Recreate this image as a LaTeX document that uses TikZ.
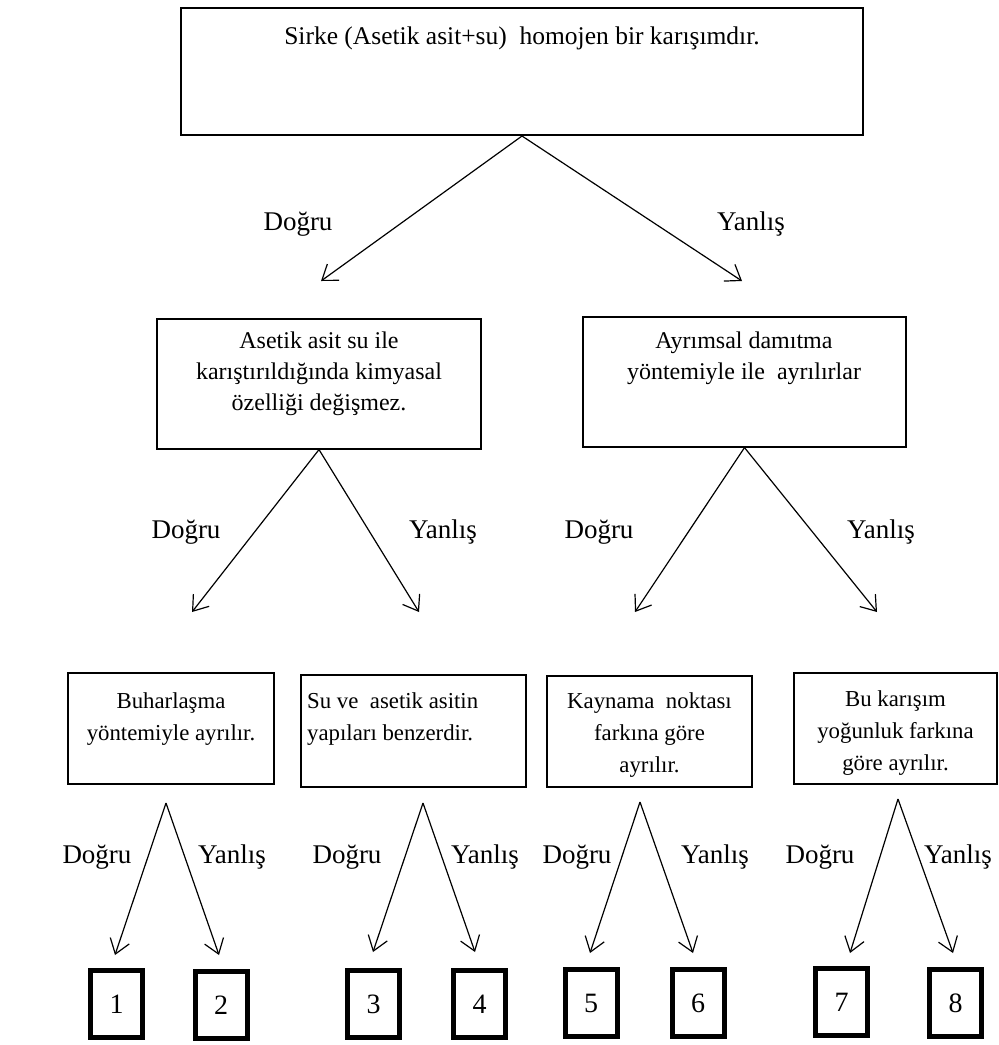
\documentclass[tikz,border=0pt]{standalone}
\usepackage{fontspec}
\setmainfont{Liberation Serif}
\usetikzlibrary{arrows.meta}
\begin{document}
\begin{tikzpicture}[x=1pt,y=-1pt,
  thickbox/.style={draw, line width=2.4pt, inner sep=0pt},
  box/.style={draw, line width=1.2pt, inner sep=0pt},
  numbox/.style={draw, line width=5pt, inner sep=0pt, minimum width=52pt,
    minimum height=67pt, font=\fontsize{28}{32}\selectfont},
  txt/.style={inner sep=0pt, align=center, font=\fontsize{24}{31}\selectfont},
  smalltxt/.style={inner sep=0pt, align=center, font=\fontsize{22.8}{32}\selectfont},
  lbl/.style={inner sep=0pt, font=\fontsize{27}{30}\selectfont},
  arr/.style={-{Straight Barb[length=14pt,width=20pt]}, line width=1.2pt},
]
\useasboundingbox (0,0) rectangle (999,1045);

% question boxes
\node[thickbox, minimum width=681.6pt, minimum height=126.6pt] (b0) at (522,71.5) {};
\node[box, minimum width=324pt, minimum height=130pt] (b1) at (319,384) {};
\node[box, minimum width=323pt, minimum height=130pt] (b2) at (744.5,382) {};
\node[box, minimum width=206pt, minimum height=111pt] (b3) at (171,728.5) {};
\node[box, minimum width=225pt, minimum height=112pt] (b4) at (413.5,731) {};
\node[box, minimum width=205pt, minimum height=111pt] (b5) at (649.5,731.5) {};
\node[box, minimum width=203pt, minimum height=111pt] (b6) at (895.5,728.5) {};

% box texts
\node[txt, font=\fontsize{25.5}{31}\selectfont] (t0) at (522,38) {Sirke (Asetik asit+su)\ \ homojen bir karışımdır.};
\node[txt] (t1) at (319,374) {Asetik asit su ile\\karıştırıldığında kimyasal\\özelliği değişmez.};
\node[txt] (t2) at (744,358) {Ayrımsal damıtma\\yöntemiyle ile\ \ ayrılırlar};
\node[smalltxt] (t3) at (171,719) {Buharlaşma\\yöntemiyle ayrılır.};
\node[smalltxt, align=left, anchor=west] (t4) at (307,719) {Su ve\ \ asetik asitin\\yapıları benzerdir.};
\node[smalltxt] (t5) at (649.5,735) {Kaynama\ \ noktası\\farkına göre\\ayrılır.};
\node[smalltxt] (t6) at (895.5,733) {Bu karışım\\yoğunluk farkına\\göre ayrılır.};

% numbered outcome boxes
\node[numbox] (n1) at (116.5,1004) {1};
\node[numbox] (n2) at (221,1005) {2};
\node[numbox] (n3) at (373.5,1004) {3};
\node[numbox] (n4) at (479.5,1004) {4};
\node[numbox] (n5) at (591,1003) {5};
\node[numbox] (n6) at (698,1003) {6};
\node[numbox] (n7) at (841.5,1002) {7};
\node[numbox] (n8) at (955.5,1003) {8};

% branch points and arrow ends
\coordinate (a3) at (166,803);
\coordinate (a4) at (423,803);
\coordinate (a5) at (640,802);
\coordinate (a6) at (898,799);
\coordinate (e1) at (321,281);
\coordinate (e2) at (742,281);
\coordinate (e3) at (192,612);
\coordinate (e4) at (419,612);
\coordinate (e5) at (635,612);
\coordinate (e6) at (877,612);
\coordinate (f1) at (115,955);
\coordinate (f2) at (219,955);
\coordinate (f3) at (373,952);
\coordinate (f4) at (475,952);
\coordinate (f5) at (590,953);
\coordinate (f6) at (693,953);
\coordinate (f7) at (850,953);
\coordinate (f8) at (953,953);

% arrows
\draw[arr] (b0.south) -- (e1);
\draw[arr] (b0.south) -- (e2);
\draw[arr] (b1.south) -- (e3);
\draw[arr] (b1.south) -- (e4);
\draw[arr] (b2.south) -- (e5);
\draw[arr] (b2.south) -- (e6);
\draw[arr] (a3) -- (f1);
\draw[arr] (a3) -- (f2);
\draw[arr] (a4) -- (f3);
\draw[arr] (a4) -- (f4);
\draw[arr] (a5) -- (f5);
\draw[arr] (a5) -- (f6);
\draw[arr] (a6) -- (f7);
\draw[arr] (a6) -- (f8);

% branch labels
\node[lbl] (d0) at (298,224) {Doğru};
\node[lbl] (y0) at (751,224) {Yanlış};
\node[lbl] (d1) at (186,532) {Doğru};
\node[lbl] (y1) at (443,532) {Yanlış};
\node[lbl] (d2) at (599,532) {Doğru};
\node[lbl] (y2) at (881,532) {Yanlış};
\node[lbl] (d3) at (97,857) {Doğru};
\node[lbl] (y3) at (232,857) {Yanlış};
\node[lbl] (d4) at (347,857) {Doğru};
\node[lbl] (y4) at (485,857) {Yanlış};
\node[lbl] (d5) at (577,857) {Doğru};
\node[lbl] (y5) at (715,857) {Yanlış};
\node[lbl] (d6) at (820,857) {Doğru};
\node[lbl] (y6) at (958,857) {Yanlış};
\end{tikzpicture}
\end{document}
